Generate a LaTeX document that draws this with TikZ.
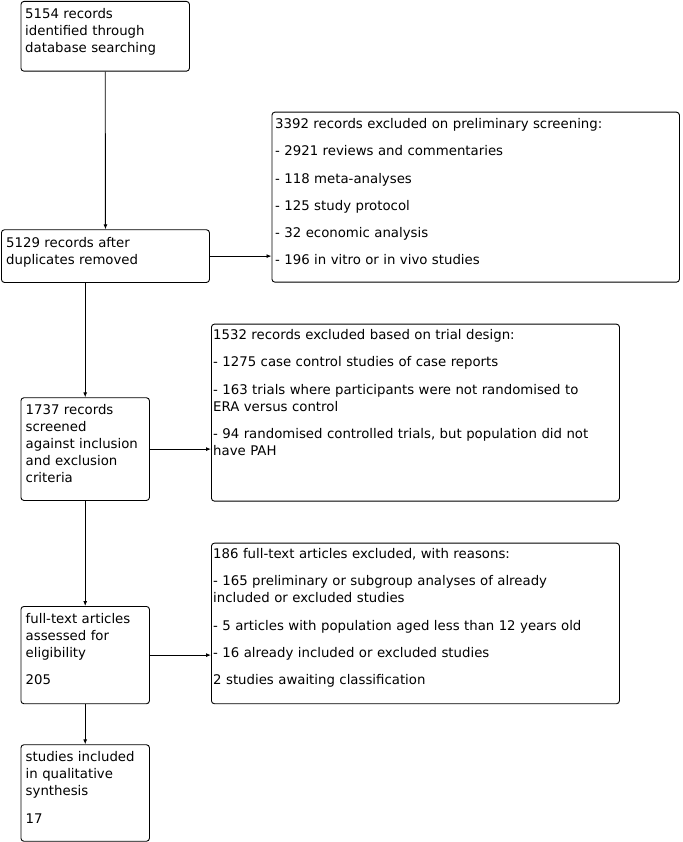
\documentclass[tikz,border=0pt]{standalone}
\usepackage{fontspec}
\setmainfont{DejaVu Sans}
\usetikzlibrary{arrows.meta}
\tikzset{
  box/.style={draw=black, line width=0.9pt, rounded corners=3pt, inner sep=0pt, anchor=north west, fill=white},
  txt/.style={inner sep=0pt, anchor=base west, align=left, text width=420pt,
    font=\fontsize{13.3}{17}\selectfont},
  arr/.style={draw=black, line width=0.9pt, -{Latex[length=5pt,width=4pt]}}
}
\newcommand{\pgap}{\\[10.3pt]}
\begin{document}
\begin{tikzpicture}[x=1pt,y=-1pt]
\useasboundingbox (0,0) rectangle (682,842);
% boxes
\node[box, minimum width=168.5pt, minimum height=69.7pt] (b1) at (20.5,1) {};
\node[box, minimum width=208pt, minimum height=52.7pt] (b2) at (1,229.3) {};
\node[box, minimum width=407.5pt, minimum height=170pt] (b3) at (271.5,111.7) {};
\node[box, minimum width=408pt, minimum height=177pt] (b4) at (211,323.7) {};
\node[box, minimum width=128.5pt, minimum height=102.7pt] (b5) at (20.5,397.3) {};
\node[box, minimum width=408pt, minimum height=160.6pt] (b6) at (211,542.7) {};
\node[box, minimum width=128.5pt, minimum height=97.3pt] (b7) at (20.5,606) {};
\node[box, minimum width=128.5pt, minimum height=96.5pt] (b8) at (20.5,744.3) {};
% texts
\node[txt] (t1) at (25,18.5) {5154 records\\identified through\\database searching};
\node[txt] (t2) at (6,247.3) {5129 records after\\duplicates removed};
\node[txt] (t3) at (275,128.5) {3392 records excluded on preliminary screening:\pgap
- 2921 reviews and commentaries\pgap
- 118 meta-analyses\pgap
- 125 study protocol\pgap
- 32 economic analysis\pgap
- 196 in vitro or in vivo studies};
\node[txt] (t4) at (213,339.5) {1532 records excluded based on trial design:\pgap
- 1275 case control studies of case reports\pgap
- 163 trials where participants were not randomised to\\ERA versus control\pgap
- 94 randomised controlled trials, but population did not\\have PAH};
\node[txt] (t5) at (25.5,414.3) {1737 records\\screened\\against inclusion\\and exclusion\\criteria};
\node[txt] (t6) at (213,558.5) {186 full-text articles excluded, with reasons:\pgap
- 165 preliminary or subgroup analyses of already\\included or excluded studies\pgap
- 5 articles with population aged less than 12 years old\pgap
- 16 already included or excluded studies\pgap
2 studies awaiting classification};
\node[txt] (t7) at (25.5,623.3) {full-text articles\\assessed for\\eligibility\pgap 205};
\node[txt] (t8) at (25.5,761.7) {studies included\\in qualitative\\synthesis\pgap 17};
% connectors
\draw[arr] (b1.south) -- (b2.north);
\draw[arr] (b2.east) -- (b2.east -| b3.west);
\draw[arr] (b2.south -| b5.north) -- (b5.north);
\draw[arr] (b5.east) -- (b5.east -| b4.west);
\draw[arr] (b5.south) -- (b7.north);
\draw[arr] (b7.east) -- (b7.east -| b6.west);
\draw[arr] (b7.south) -- (b8.north);
\end{tikzpicture}
\end{document}
